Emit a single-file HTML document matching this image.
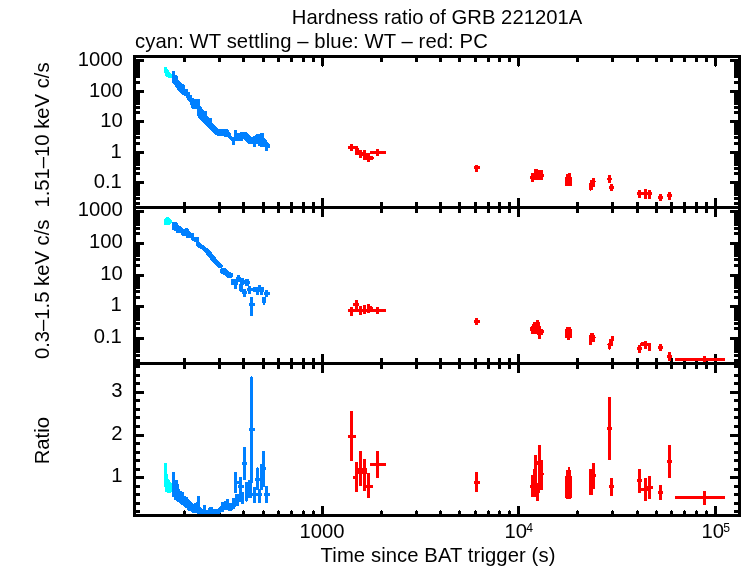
<!DOCTYPE html>
<html><head><meta charset="utf-8"><title>Hardness ratio of GRB 221201A</title>
<style>html,body{margin:0;padding:0;background:#fff}svg{display:block}</style></head>
<body><svg width="744" height="566" viewBox="0 0 744 566">
<rect width="744" height="566" fill="#fff"/>
<g shape-rendering="crispEdges"><rect x="133" y="55" width="608" height="3" fill="#000"/><rect x="133" y="206" width="608" height="3" fill="#000"/><rect x="133" y="362" width="608" height="3" fill="#000"/><rect x="133" y="514" width="608" height="3" fill="#000"/><rect x="133" y="55" width="3" height="462" fill="#000"/><rect x="738" y="55" width="3" height="462" fill="#000"/><rect x="183" y="56" width="3" height="6" fill="#000"/><rect x="183" y="202" width="3" height="11" fill="#000"/><rect x="183" y="358" width="3" height="11" fill="#000"/><rect x="183" y="511" width="3" height="5" fill="#000"/><rect x="184" y="510" width="1" height="1" fill="#000"/><rect x="218" y="56" width="3" height="6" fill="#000"/><rect x="218" y="202" width="3" height="11" fill="#000"/><rect x="218" y="358" width="3" height="11" fill="#000"/><rect x="218" y="511" width="3" height="5" fill="#000"/><rect x="219" y="510" width="1" height="1" fill="#000"/><rect x="242" y="56" width="3" height="6" fill="#000"/><rect x="242" y="202" width="3" height="11" fill="#000"/><rect x="242" y="358" width="3" height="11" fill="#000"/><rect x="242" y="511" width="3" height="5" fill="#000"/><rect x="243" y="510" width="1" height="1" fill="#000"/><rect x="262" y="56" width="3" height="6" fill="#000"/><rect x="262" y="202" width="3" height="11" fill="#000"/><rect x="262" y="358" width="3" height="11" fill="#000"/><rect x="262" y="511" width="3" height="5" fill="#000"/><rect x="263" y="510" width="1" height="1" fill="#000"/><rect x="277" y="56" width="3" height="6" fill="#000"/><rect x="277" y="202" width="3" height="11" fill="#000"/><rect x="277" y="358" width="3" height="11" fill="#000"/><rect x="277" y="511" width="3" height="5" fill="#000"/><rect x="278" y="510" width="1" height="1" fill="#000"/><rect x="290" y="56" width="3" height="6" fill="#000"/><rect x="290" y="202" width="3" height="11" fill="#000"/><rect x="290" y="358" width="3" height="11" fill="#000"/><rect x="290" y="511" width="3" height="5" fill="#000"/><rect x="291" y="510" width="1" height="1" fill="#000"/><rect x="302" y="56" width="3" height="6" fill="#000"/><rect x="302" y="202" width="3" height="11" fill="#000"/><rect x="302" y="358" width="3" height="11" fill="#000"/><rect x="302" y="511" width="3" height="5" fill="#000"/><rect x="303" y="510" width="1" height="1" fill="#000"/><rect x="312" y="56" width="3" height="6" fill="#000"/><rect x="312" y="202" width="3" height="11" fill="#000"/><rect x="312" y="358" width="3" height="11" fill="#000"/><rect x="312" y="511" width="3" height="5" fill="#000"/><rect x="313" y="510" width="1" height="1" fill="#000"/><rect x="321" y="56" width="3" height="10" fill="#000"/><rect x="322" y="66" width="1" height="1" fill="#000"/><rect x="321" y="198" width="3" height="19" fill="#000"/><rect x="321" y="354" width="3" height="19" fill="#000"/><rect x="321" y="506" width="3" height="10" fill="#000"/><rect x="380" y="56" width="3" height="6" fill="#000"/><rect x="380" y="202" width="3" height="11" fill="#000"/><rect x="380" y="358" width="3" height="11" fill="#000"/><rect x="380" y="511" width="3" height="5" fill="#000"/><rect x="381" y="510" width="1" height="1" fill="#000"/><rect x="415" y="56" width="3" height="6" fill="#000"/><rect x="415" y="202" width="3" height="11" fill="#000"/><rect x="415" y="358" width="3" height="11" fill="#000"/><rect x="415" y="511" width="3" height="5" fill="#000"/><rect x="416" y="510" width="1" height="1" fill="#000"/><rect x="439" y="56" width="3" height="6" fill="#000"/><rect x="439" y="202" width="3" height="11" fill="#000"/><rect x="439" y="358" width="3" height="11" fill="#000"/><rect x="439" y="511" width="3" height="5" fill="#000"/><rect x="440" y="510" width="1" height="1" fill="#000"/><rect x="458" y="56" width="3" height="6" fill="#000"/><rect x="458" y="202" width="3" height="11" fill="#000"/><rect x="458" y="358" width="3" height="11" fill="#000"/><rect x="458" y="511" width="3" height="5" fill="#000"/><rect x="459" y="510" width="1" height="1" fill="#000"/><rect x="474" y="56" width="3" height="6" fill="#000"/><rect x="474" y="202" width="3" height="11" fill="#000"/><rect x="474" y="358" width="3" height="11" fill="#000"/><rect x="474" y="511" width="3" height="5" fill="#000"/><rect x="475" y="510" width="1" height="1" fill="#000"/><rect x="487" y="56" width="3" height="6" fill="#000"/><rect x="487" y="202" width="3" height="11" fill="#000"/><rect x="487" y="358" width="3" height="11" fill="#000"/><rect x="487" y="511" width="3" height="5" fill="#000"/><rect x="488" y="510" width="1" height="1" fill="#000"/><rect x="498" y="56" width="3" height="6" fill="#000"/><rect x="498" y="202" width="3" height="11" fill="#000"/><rect x="498" y="358" width="3" height="11" fill="#000"/><rect x="498" y="511" width="3" height="5" fill="#000"/><rect x="499" y="510" width="1" height="1" fill="#000"/><rect x="508" y="56" width="3" height="6" fill="#000"/><rect x="508" y="202" width="3" height="11" fill="#000"/><rect x="508" y="358" width="3" height="11" fill="#000"/><rect x="508" y="511" width="3" height="5" fill="#000"/><rect x="509" y="510" width="1" height="1" fill="#000"/><rect x="517" y="56" width="3" height="10" fill="#000"/><rect x="518" y="66" width="1" height="1" fill="#000"/><rect x="517" y="198" width="3" height="19" fill="#000"/><rect x="517" y="354" width="3" height="19" fill="#000"/><rect x="517" y="506" width="3" height="10" fill="#000"/><rect x="576" y="56" width="3" height="6" fill="#000"/><rect x="576" y="202" width="3" height="11" fill="#000"/><rect x="576" y="358" width="3" height="11" fill="#000"/><rect x="576" y="511" width="3" height="5" fill="#000"/><rect x="577" y="510" width="1" height="1" fill="#000"/><rect x="611" y="56" width="3" height="6" fill="#000"/><rect x="611" y="202" width="3" height="11" fill="#000"/><rect x="611" y="358" width="3" height="11" fill="#000"/><rect x="611" y="511" width="3" height="5" fill="#000"/><rect x="612" y="510" width="1" height="1" fill="#000"/><rect x="636" y="56" width="3" height="6" fill="#000"/><rect x="636" y="202" width="3" height="11" fill="#000"/><rect x="636" y="358" width="3" height="11" fill="#000"/><rect x="636" y="511" width="3" height="5" fill="#000"/><rect x="637" y="510" width="1" height="1" fill="#000"/><rect x="655" y="56" width="3" height="6" fill="#000"/><rect x="655" y="202" width="3" height="11" fill="#000"/><rect x="655" y="358" width="3" height="11" fill="#000"/><rect x="655" y="511" width="3" height="5" fill="#000"/><rect x="656" y="510" width="1" height="1" fill="#000"/><rect x="670" y="56" width="3" height="6" fill="#000"/><rect x="670" y="202" width="3" height="11" fill="#000"/><rect x="670" y="358" width="3" height="11" fill="#000"/><rect x="670" y="511" width="3" height="5" fill="#000"/><rect x="671" y="510" width="1" height="1" fill="#000"/><rect x="683" y="56" width="3" height="6" fill="#000"/><rect x="683" y="202" width="3" height="11" fill="#000"/><rect x="683" y="358" width="3" height="11" fill="#000"/><rect x="683" y="511" width="3" height="5" fill="#000"/><rect x="684" y="510" width="1" height="1" fill="#000"/><rect x="695" y="56" width="3" height="6" fill="#000"/><rect x="695" y="202" width="3" height="11" fill="#000"/><rect x="695" y="358" width="3" height="11" fill="#000"/><rect x="695" y="511" width="3" height="5" fill="#000"/><rect x="696" y="510" width="1" height="1" fill="#000"/><rect x="705" y="56" width="3" height="6" fill="#000"/><rect x="705" y="202" width="3" height="11" fill="#000"/><rect x="705" y="358" width="3" height="11" fill="#000"/><rect x="705" y="511" width="3" height="5" fill="#000"/><rect x="706" y="510" width="1" height="1" fill="#000"/><rect x="714" y="56" width="3" height="10" fill="#000"/><rect x="715" y="66" width="1" height="1" fill="#000"/><rect x="714" y="198" width="3" height="19" fill="#000"/><rect x="714" y="354" width="3" height="19" fill="#000"/><rect x="714" y="506" width="3" height="10" fill="#000"/><rect x="134" y="202" width="6" height="3" fill="#000"/><rect x="734" y="202" width="6" height="3" fill="#000"/><rect x="134" y="197" width="6" height="3" fill="#000"/><rect x="734" y="197" width="6" height="3" fill="#000"/><rect x="134" y="193" width="6" height="3" fill="#000"/><rect x="734" y="193" width="6" height="3" fill="#000"/><rect x="134" y="190" width="6" height="3" fill="#000"/><rect x="734" y="190" width="6" height="3" fill="#000"/><rect x="134" y="188" width="6" height="3" fill="#000"/><rect x="734" y="188" width="6" height="3" fill="#000"/><rect x="134" y="186" width="6" height="3" fill="#000"/><rect x="734" y="186" width="6" height="3" fill="#000"/><rect x="134" y="184" width="6" height="3" fill="#000"/><rect x="734" y="184" width="6" height="3" fill="#000"/><rect x="134" y="183" width="6" height="3" fill="#000"/><rect x="734" y="183" width="6" height="3" fill="#000"/><rect x="134" y="181" width="10" height="3" fill="#000"/><rect x="730" y="181" width="10" height="3" fill="#000"/><rect x="134" y="172" width="6" height="3" fill="#000"/><rect x="734" y="172" width="6" height="3" fill="#000"/><rect x="134" y="167" width="6" height="3" fill="#000"/><rect x="734" y="167" width="6" height="3" fill="#000"/><rect x="134" y="163" width="6" height="3" fill="#000"/><rect x="734" y="163" width="6" height="3" fill="#000"/><rect x="134" y="160" width="6" height="3" fill="#000"/><rect x="734" y="160" width="6" height="3" fill="#000"/><rect x="134" y="157" width="6" height="3" fill="#000"/><rect x="734" y="157" width="6" height="3" fill="#000"/><rect x="134" y="155" width="6" height="3" fill="#000"/><rect x="734" y="155" width="6" height="3" fill="#000"/><rect x="134" y="154" width="6" height="3" fill="#000"/><rect x="734" y="154" width="6" height="3" fill="#000"/><rect x="134" y="152" width="6" height="3" fill="#000"/><rect x="734" y="152" width="6" height="3" fill="#000"/><rect x="134" y="151" width="10" height="3" fill="#000"/><rect x="730" y="151" width="10" height="3" fill="#000"/><rect x="134" y="142" width="6" height="3" fill="#000"/><rect x="734" y="142" width="6" height="3" fill="#000"/><rect x="134" y="136" width="6" height="3" fill="#000"/><rect x="734" y="136" width="6" height="3" fill="#000"/><rect x="134" y="132" width="6" height="3" fill="#000"/><rect x="734" y="132" width="6" height="3" fill="#000"/><rect x="134" y="129" width="6" height="3" fill="#000"/><rect x="734" y="129" width="6" height="3" fill="#000"/><rect x="134" y="127" width="6" height="3" fill="#000"/><rect x="734" y="127" width="6" height="3" fill="#000"/><rect x="134" y="125" width="6" height="3" fill="#000"/><rect x="734" y="125" width="6" height="3" fill="#000"/><rect x="134" y="123" width="6" height="3" fill="#000"/><rect x="734" y="123" width="6" height="3" fill="#000"/><rect x="134" y="122" width="6" height="3" fill="#000"/><rect x="734" y="122" width="6" height="3" fill="#000"/><rect x="134" y="120" width="10" height="3" fill="#000"/><rect x="730" y="120" width="10" height="3" fill="#000"/><rect x="134" y="111" width="6" height="3" fill="#000"/><rect x="734" y="111" width="6" height="3" fill="#000"/><rect x="134" y="106" width="6" height="3" fill="#000"/><rect x="734" y="106" width="6" height="3" fill="#000"/><rect x="134" y="102" width="6" height="3" fill="#000"/><rect x="734" y="102" width="6" height="3" fill="#000"/><rect x="134" y="99" width="6" height="3" fill="#000"/><rect x="734" y="99" width="6" height="3" fill="#000"/><rect x="134" y="97" width="6" height="3" fill="#000"/><rect x="734" y="97" width="6" height="3" fill="#000"/><rect x="134" y="95" width="6" height="3" fill="#000"/><rect x="734" y="95" width="6" height="3" fill="#000"/><rect x="134" y="93" width="6" height="3" fill="#000"/><rect x="734" y="93" width="6" height="3" fill="#000"/><rect x="134" y="91" width="6" height="3" fill="#000"/><rect x="734" y="91" width="6" height="3" fill="#000"/><rect x="134" y="90" width="10" height="3" fill="#000"/><rect x="730" y="90" width="10" height="3" fill="#000"/><rect x="134" y="81" width="6" height="3" fill="#000"/><rect x="734" y="81" width="6" height="3" fill="#000"/><rect x="134" y="75" width="6" height="3" fill="#000"/><rect x="734" y="75" width="6" height="3" fill="#000"/><rect x="134" y="72" width="6" height="3" fill="#000"/><rect x="734" y="72" width="6" height="3" fill="#000"/><rect x="134" y="69" width="6" height="3" fill="#000"/><rect x="734" y="69" width="6" height="3" fill="#000"/><rect x="134" y="66" width="6" height="3" fill="#000"/><rect x="734" y="66" width="6" height="3" fill="#000"/><rect x="134" y="64" width="6" height="3" fill="#000"/><rect x="734" y="64" width="6" height="3" fill="#000"/><rect x="134" y="62" width="6" height="3" fill="#000"/><rect x="734" y="62" width="6" height="3" fill="#000"/><rect x="134" y="61" width="6" height="3" fill="#000"/><rect x="734" y="61" width="6" height="3" fill="#000"/><rect x="134" y="59" width="10" height="3" fill="#000"/><rect x="730" y="59" width="10" height="3" fill="#000"/><rect x="134" y="359" width="6" height="3" fill="#000"/><rect x="734" y="359" width="6" height="3" fill="#000"/><rect x="134" y="354" width="6" height="3" fill="#000"/><rect x="734" y="354" width="6" height="3" fill="#000"/><rect x="134" y="350" width="6" height="3" fill="#000"/><rect x="734" y="350" width="6" height="3" fill="#000"/><rect x="134" y="347" width="6" height="3" fill="#000"/><rect x="734" y="347" width="6" height="3" fill="#000"/><rect x="134" y="344" width="6" height="3" fill="#000"/><rect x="734" y="344" width="6" height="3" fill="#000"/><rect x="134" y="342" width="6" height="3" fill="#000"/><rect x="734" y="342" width="6" height="3" fill="#000"/><rect x="134" y="340" width="6" height="3" fill="#000"/><rect x="734" y="340" width="6" height="3" fill="#000"/><rect x="134" y="338" width="6" height="3" fill="#000"/><rect x="734" y="338" width="6" height="3" fill="#000"/><rect x="134" y="337" width="10" height="3" fill="#000"/><rect x="730" y="337" width="10" height="3" fill="#000"/><rect x="134" y="327" width="6" height="3" fill="#000"/><rect x="734" y="327" width="6" height="3" fill="#000"/><rect x="134" y="322" width="6" height="3" fill="#000"/><rect x="734" y="322" width="6" height="3" fill="#000"/><rect x="134" y="318" width="6" height="3" fill="#000"/><rect x="734" y="318" width="6" height="3" fill="#000"/><rect x="134" y="315" width="6" height="3" fill="#000"/><rect x="734" y="315" width="6" height="3" fill="#000"/><rect x="134" y="312" width="6" height="3" fill="#000"/><rect x="734" y="312" width="6" height="3" fill="#000"/><rect x="134" y="310" width="6" height="3" fill="#000"/><rect x="734" y="310" width="6" height="3" fill="#000"/><rect x="134" y="308" width="6" height="3" fill="#000"/><rect x="734" y="308" width="6" height="3" fill="#000"/><rect x="134" y="307" width="6" height="3" fill="#000"/><rect x="734" y="307" width="6" height="3" fill="#000"/><rect x="134" y="305" width="10" height="3" fill="#000"/><rect x="730" y="305" width="10" height="3" fill="#000"/><rect x="134" y="296" width="6" height="3" fill="#000"/><rect x="734" y="296" width="6" height="3" fill="#000"/><rect x="134" y="290" width="6" height="3" fill="#000"/><rect x="734" y="290" width="6" height="3" fill="#000"/><rect x="134" y="286" width="6" height="3" fill="#000"/><rect x="734" y="286" width="6" height="3" fill="#000"/><rect x="134" y="283" width="6" height="3" fill="#000"/><rect x="734" y="283" width="6" height="3" fill="#000"/><rect x="134" y="281" width="6" height="3" fill="#000"/><rect x="734" y="281" width="6" height="3" fill="#000"/><rect x="134" y="278" width="6" height="3" fill="#000"/><rect x="734" y="278" width="6" height="3" fill="#000"/><rect x="134" y="277" width="6" height="3" fill="#000"/><rect x="734" y="277" width="6" height="3" fill="#000"/><rect x="134" y="275" width="6" height="3" fill="#000"/><rect x="734" y="275" width="6" height="3" fill="#000"/><rect x="134" y="274" width="10" height="3" fill="#000"/><rect x="730" y="274" width="10" height="3" fill="#000"/><rect x="134" y="264" width="6" height="3" fill="#000"/><rect x="734" y="264" width="6" height="3" fill="#000"/><rect x="134" y="258" width="6" height="3" fill="#000"/><rect x="734" y="258" width="6" height="3" fill="#000"/><rect x="134" y="254" width="6" height="3" fill="#000"/><rect x="734" y="254" width="6" height="3" fill="#000"/><rect x="134" y="251" width="6" height="3" fill="#000"/><rect x="734" y="251" width="6" height="3" fill="#000"/><rect x="134" y="249" width="6" height="3" fill="#000"/><rect x="734" y="249" width="6" height="3" fill="#000"/><rect x="134" y="247" width="6" height="3" fill="#000"/><rect x="734" y="247" width="6" height="3" fill="#000"/><rect x="134" y="245" width="6" height="3" fill="#000"/><rect x="734" y="245" width="6" height="3" fill="#000"/><rect x="134" y="243" width="6" height="3" fill="#000"/><rect x="734" y="243" width="6" height="3" fill="#000"/><rect x="134" y="242" width="10" height="3" fill="#000"/><rect x="730" y="242" width="10" height="3" fill="#000"/><rect x="134" y="232" width="6" height="3" fill="#000"/><rect x="734" y="232" width="6" height="3" fill="#000"/><rect x="134" y="227" width="6" height="3" fill="#000"/><rect x="734" y="227" width="6" height="3" fill="#000"/><rect x="134" y="223" width="6" height="3" fill="#000"/><rect x="734" y="223" width="6" height="3" fill="#000"/><rect x="134" y="220" width="6" height="3" fill="#000"/><rect x="734" y="220" width="6" height="3" fill="#000"/><rect x="134" y="217" width="6" height="3" fill="#000"/><rect x="734" y="217" width="6" height="3" fill="#000"/><rect x="134" y="215" width="6" height="3" fill="#000"/><rect x="734" y="215" width="6" height="3" fill="#000"/><rect x="134" y="213" width="6" height="3" fill="#000"/><rect x="734" y="213" width="6" height="3" fill="#000"/><rect x="134" y="211" width="6" height="3" fill="#000"/><rect x="734" y="211" width="6" height="3" fill="#000"/><rect x="134" y="210" width="10" height="3" fill="#000"/><rect x="730" y="210" width="10" height="3" fill="#000"/><rect x="134" y="510" width="6" height="3" fill="#000"/><rect x="734" y="510" width="6" height="3" fill="#000"/><rect x="134" y="502" width="6" height="3" fill="#000"/><rect x="734" y="502" width="6" height="3" fill="#000"/><rect x="134" y="493" width="6" height="3" fill="#000"/><rect x="734" y="493" width="6" height="3" fill="#000"/><rect x="134" y="485" width="6" height="3" fill="#000"/><rect x="734" y="485" width="6" height="3" fill="#000"/><rect x="134" y="476" width="10" height="3" fill="#000"/><rect x="730" y="476" width="10" height="3" fill="#000"/><rect x="134" y="468" width="6" height="3" fill="#000"/><rect x="734" y="468" width="6" height="3" fill="#000"/><rect x="134" y="459" width="6" height="3" fill="#000"/><rect x="734" y="459" width="6" height="3" fill="#000"/><rect x="134" y="451" width="6" height="3" fill="#000"/><rect x="734" y="451" width="6" height="3" fill="#000"/><rect x="134" y="442" width="6" height="3" fill="#000"/><rect x="734" y="442" width="6" height="3" fill="#000"/><rect x="134" y="434" width="10" height="3" fill="#000"/><rect x="730" y="434" width="10" height="3" fill="#000"/><rect x="134" y="425" width="6" height="3" fill="#000"/><rect x="734" y="425" width="6" height="3" fill="#000"/><rect x="134" y="416" width="6" height="3" fill="#000"/><rect x="734" y="416" width="6" height="3" fill="#000"/><rect x="134" y="408" width="6" height="3" fill="#000"/><rect x="734" y="408" width="6" height="3" fill="#000"/><rect x="134" y="399" width="6" height="3" fill="#000"/><rect x="734" y="399" width="6" height="3" fill="#000"/><rect x="134" y="391" width="10" height="3" fill="#000"/><rect x="730" y="391" width="10" height="3" fill="#000"/><rect x="134" y="382" width="6" height="3" fill="#000"/><rect x="734" y="382" width="6" height="3" fill="#000"/><rect x="134" y="374" width="6" height="3" fill="#000"/><rect x="734" y="374" width="6" height="3" fill="#000"/><rect x="134" y="365" width="6" height="3" fill="#000"/><rect x="734" y="365" width="6" height="3" fill="#000"/></g>
<g shape-rendering="crispEdges"><polygon fill="#00ffff" points="164,67 167,67 167,69 169,71 170,73 172,75 172,77 171,78 168,78 167,77 165,76 165,74 164,73"/><polygon fill="#0080ff" points="172,71 175,71 175,75 176,75 178,76 178,80 180,81 181,83 183,84 185,86 185,89 188,89 188,92 190,92 190,95 192,95 192,98 194,98 194,99 200,99 200,106 202,108 204,111 207,111 207,116 209,118 212,118 212,122 215,126 218,129 227,129 229,131 231,134 232,137 234,137 234,130 237,130 237,133 240,133 240,132 247,132 251,137 254,136 256,134 260,134 260,133 264,133 264,137 270,145 270,148 268,148 268,151 265,151 265,147 262,147 258,146 258,144 256,144 256,147 253,147 253,144 248,144 247,143 243,139 243,141 235,141 235,145 232,145 232,142 228,137 219,136 215,135 213,133 211,130 207,127 204,124 202,121 198,118 197,113 197,109 192,109 190,103 187,100 186,96 182,95 179,92 177,89 175,86 173,84 172,81"/><rect fill="#ff0000" x="348" y="146" width="10" height="3"/><rect fill="#ff0000" x="350" y="144" width="3" height="7"/><rect fill="#ff0000" x="355" y="148" width="4" height="7"/><rect fill="#ff0000" x="359" y="150" width="3" height="8"/><rect fill="#ff0000" x="362" y="152" width="1" height="4"/><rect fill="#ff0000" x="363" y="150" width="3" height="10"/><rect fill="#ff0000" x="366" y="153" width="4" height="7"/><rect fill="#ff0000" x="367" y="160" width="3" height="2"/><rect fill="#ff0000" x="370" y="156" width="3" height="4"/><rect fill="#ff0000" x="373" y="157" width="1" height="2"/><rect fill="#ff0000" x="370" y="151" width="16" height="3"/><rect fill="#ff0000" x="376" y="149" width="3" height="7"/><rect fill="#ff0000" x="474" y="166" width="6" height="3"/><rect fill="#ff0000" x="475" y="165" width="3" height="7"/><rect fill="#ff0000" x="534" y="170" width="9" height="10"/><rect fill="#ff0000" x="534" y="169" width="4" height="1"/><rect fill="#ff0000" x="531" y="173" width="3" height="9"/><rect fill="#ff0000" x="530" y="176" width="1" height="3"/><rect fill="#ff0000" x="543" y="174" width="1" height="3"/><rect fill="#ff0000" x="565" y="177" width="7" height="9"/><rect fill="#ff0000" x="566" y="174" width="5" height="3"/><rect fill="#ff0000" x="568" y="173" width="3" height="1"/><rect fill="#ff0000" x="592" y="178" width="3" height="5"/><rect fill="#ff0000" x="590" y="180" width="5" height="7"/><rect fill="#ff0000" x="589" y="183" width="4" height="7"/><rect fill="#ff0000" x="590" y="190" width="1" height="1"/><rect fill="#ff0000" x="595" y="181" width="1" height="1"/><rect fill="#ff0000" x="608" y="175" width="3" height="8"/><rect fill="#ff0000" x="607" y="178" width="5" height="2"/><rect fill="#ff0000" x="610" y="184" width="3" height="7"/><rect fill="#ff0000" x="609" y="186" width="5" height="3"/><rect fill="#ff0000" x="638" y="190" width="3" height="8"/><rect fill="#ff0000" x="644" y="189" width="3" height="10"/><rect fill="#ff0000" x="648" y="190" width="3" height="9"/><rect fill="#ff0000" x="637" y="192" width="15" height="3"/><rect fill="#ff0000" x="659" y="194" width="3" height="7"/><rect fill="#ff0000" x="658" y="196" width="5" height="3"/><rect fill="#ff0000" x="668" y="192" width="3" height="8"/><rect fill="#ff0000" x="667" y="194" width="5" height="3"/><polygon fill="#00ffff" points="164,219 166,217 169,217 170,219 172,220 172,223 171,223 170,225 164,225"/><polygon fill="#0080ff" points="172,222 177,222 179,226 182,227 183,229 185,229 185,228 188,228 190,232 191,233 194,233 194,237 199,237 199,242 203,245 207,248 212,253 216,258 221,264 223,266 223,267 221,268 218,268 214,264 210,259 206,254 203,251 201,249 198,248 196,246 196,242 192,241 191,238 186,238 186,236 182,236 181,233 176,233 176,231 172,230"/><polygon fill="#0080ff" points="220,269 222,268 226,268 229,272 232,273 233,274 233,277 231,278 227,278 224,275 220,273"/><rect fill="#0080ff" x="231" y="279" width="7" height="6"/><rect fill="#0080ff" x="234" y="279" width="3" height="10"/><rect fill="#0080ff" x="237" y="275" width="3" height="7"/><rect fill="#0080ff" x="236" y="277" width="5" height="3"/><rect fill="#0080ff" x="241" y="278" width="3" height="7"/><rect fill="#0080ff" x="240" y="280" width="5" height="4"/><rect fill="#0080ff" x="245" y="279" width="4" height="7"/><rect fill="#0080ff" x="244" y="281" width="6" height="3"/><rect fill="#0080ff" x="239" y="284" width="4" height="7"/><rect fill="#0080ff" x="240" y="291" width="2" height="1"/><rect fill="#0080ff" x="243" y="289" width="3" height="8"/><rect fill="#0080ff" x="242" y="291" width="5" height="3"/><rect fill="#0080ff" x="248" y="286" width="3" height="8"/><rect fill="#0080ff" x="247" y="288" width="5" height="3"/><rect fill="#0080ff" x="253" y="287" width="11" height="5"/><rect fill="#0080ff" x="256" y="292" width="3" height="3"/><rect fill="#0080ff" x="260" y="292" width="3" height="3"/><rect fill="#0080ff" x="258" y="285" width="3" height="2"/><rect fill="#0080ff" x="252" y="288" width="1" height="3"/><rect fill="#0080ff" x="265" y="290" width="3" height="7"/><rect fill="#0080ff" x="264" y="292" width="6" height="3"/><rect fill="#0080ff" x="262" y="297" width="4" height="6"/><rect fill="#0080ff" x="263" y="303" width="2" height="2"/><rect fill="#0080ff" x="250" y="297" width="3" height="19"/><rect fill="#0080ff" x="249" y="303" width="6" height="3"/><rect fill="#ff0000" x="348" y="309" width="38" height="3"/><rect fill="#ff0000" x="350" y="307" width="3" height="9"/><rect fill="#ff0000" x="355" y="300" width="3" height="12"/><rect fill="#ff0000" x="353" y="303" width="6" height="3"/><rect fill="#ff0000" x="359" y="306" width="3" height="9"/><rect fill="#ff0000" x="363" y="305" width="3" height="9"/><rect fill="#ff0000" x="367" y="304" width="3" height="9"/><rect fill="#ff0000" x="370" y="306" width="2" height="4"/><rect fill="#ff0000" x="372" y="307" width="1" height="3"/><rect fill="#ff0000" x="376" y="307" width="3" height="7"/><rect fill="#ff0000" x="474" y="320" width="6" height="3"/><rect fill="#ff0000" x="475" y="318" width="3" height="7"/><rect fill="#ff0000" x="531" y="326" width="7" height="8"/><rect fill="#ff0000" x="532" y="324" width="1" height="2"/><rect fill="#ff0000" x="530" y="327" width="1" height="4"/><rect fill="#ff0000" x="533" y="322" width="7" height="4"/><rect fill="#ff0000" x="536" y="320" width="3" height="3"/><rect fill="#ff0000" x="538" y="326" width="3" height="13"/><rect fill="#ff0000" x="537" y="329" width="6" height="6"/><rect fill="#ff0000" x="543" y="330" width="1" height="3"/><rect fill="#ff0000" x="565" y="329" width="7" height="9"/><rect fill="#ff0000" x="566" y="327" width="5" height="2"/><rect fill="#ff0000" x="567" y="338" width="3" height="2"/><rect fill="#ff0000" x="590" y="333" width="4" height="2"/><rect fill="#ff0000" x="589" y="335" width="6" height="7"/><rect fill="#ff0000" x="589" y="342" width="3" height="3"/><rect fill="#ff0000" x="595" y="337" width="1" height="1"/><rect fill="#ff0000" x="611" y="336" width="3" height="5"/><rect fill="#ff0000" x="609" y="339" width="4" height="7"/><rect fill="#ff0000" x="608" y="343" width="3" height="6"/><rect fill="#ff0000" x="609" y="349" width="1" height="1"/><rect fill="#ff0000" x="607" y="344" width="1" height="1"/><rect fill="#ff0000" x="638" y="345" width="3" height="8"/><rect fill="#ff0000" x="637" y="347" width="5" height="3"/><rect fill="#ff0000" x="640" y="343" width="11" height="3"/><rect fill="#ff0000" x="644" y="341" width="3" height="8"/><rect fill="#ff0000" x="648" y="343" width="3" height="8"/><rect fill="#ff0000" x="641" y="342" width="3" height="3"/><rect fill="#ff0000" x="659" y="344" width="3" height="7"/><rect fill="#ff0000" x="658" y="346" width="5" height="3"/><rect fill="#ff0000" x="668" y="352" width="3" height="9"/><rect fill="#ff0000" x="667" y="355" width="5" height="3"/><rect fill="#ff0000" x="675" y="358" width="50" height="3"/><rect fill="#ff0000" x="703" y="356" width="3" height="6"/><polygon fill="#00ffff" points="164,463 167,463 167,469 168,479 170,481 172,484 172,491 171,493 168,493 165,492 164,482"/><polygon fill="#0080ff" points="172,472 175,472 175,480 178,480 179,487 180,491 184,492 184,496 188,497 189,500 193,504 197,502 197,496 200,496 200,507 203,509 203,505 206,505 206,510 208,510 209,507 213,507 213,509 218,509 221,505 221,502 226,501 226,499 229,499 229,503 232,503 232,498 235,498 235,494 239,494 239,506 236,506 235,509 233,509 232,511 228,511 228,510 224,510 224,512 221,512 219,514 197,514 196,513 192,513 191,511 188,511 187,508 185,508 184,506 181,505 180,503 177,502 176,500 174,500 174,497 172,497"/><rect fill="#0080ff" x="234" y="472" width="3" height="21"/><rect fill="#0080ff" x="234" y="481" width="5" height="3"/><rect fill="#0080ff" x="239" y="477" width="3" height="25"/><rect fill="#0080ff" x="238" y="485" width="6" height="3"/><rect fill="#0080ff" x="243" y="447" width="3" height="33"/><rect fill="#0080ff" x="242" y="462" width="5" height="3"/><rect fill="#0080ff" x="250" y="377" width="3" height="106"/><rect fill="#0080ff" x="251" y="376" width="1" height="1"/><rect fill="#0080ff" x="249" y="428" width="6" height="3"/><rect fill="#0080ff" x="245" y="486" width="3" height="15"/><rect fill="#0080ff" x="246" y="501" width="1" height="1"/><rect fill="#0080ff" x="248" y="480" width="3" height="18"/><rect fill="#0080ff" x="245" y="482" width="7" height="16"/><rect fill="#0080ff" x="241" y="492" width="3" height="12"/><rect fill="#0080ff" x="253" y="487" width="3" height="16"/><rect fill="#0080ff" x="252" y="493" width="10" height="3"/><rect fill="#0080ff" x="256" y="468" width="3" height="22"/><rect fill="#0080ff" x="257" y="467" width="1" height="1"/><rect fill="#0080ff" x="255" y="478" width="6" height="3"/><rect fill="#0080ff" x="258" y="489" width="3" height="14"/><rect fill="#0080ff" x="260" y="464" width="3" height="26"/><rect fill="#0080ff" x="262" y="451" width="3" height="36"/><rect fill="#0080ff" x="261" y="467" width="5" height="3"/><rect fill="#0080ff" x="265" y="486" width="3" height="17"/><rect fill="#0080ff" x="264" y="493" width="6" height="3"/><rect fill="#ff0000" x="350" y="411" width="3" height="50"/><rect fill="#ff0000" x="348" y="435" width="8" height="3"/><rect fill="#ff0000" x="355" y="462" width="3" height="30"/><rect fill="#ff0000" x="353" y="476" width="5" height="3"/><rect fill="#ff0000" x="359" y="451" width="3" height="35"/><rect fill="#ff0000" x="363" y="459" width="3" height="32"/><rect fill="#ff0000" x="358" y="468" width="9" height="6"/><rect fill="#ff0000" x="367" y="473" width="3" height="25"/><rect fill="#ff0000" x="366" y="485" width="7" height="3"/><rect fill="#ff0000" x="376" y="451" width="3" height="27"/><rect fill="#ff0000" x="370" y="463" width="16" height="3"/><rect fill="#ff0000" x="475" y="472" width="3" height="20"/><rect fill="#ff0000" x="474" y="481" width="6" height="3"/><rect fill="#ff0000" x="538" y="445" width="3" height="39"/><rect fill="#ff0000" x="534" y="455" width="3" height="39"/><rect fill="#ff0000" x="540" y="460" width="3" height="30"/><rect fill="#ff0000" x="533" y="469" width="4" height="28"/><rect fill="#ff0000" x="531" y="475" width="3" height="22"/><rect fill="#ff0000" x="536" y="483" width="3" height="18"/><rect fill="#ff0000" x="538" y="483" width="2" height="10"/><rect fill="#ff0000" x="537" y="461" width="1" height="4"/><rect fill="#ff0000" x="530" y="485" width="1" height="3"/><rect fill="#ff0000" x="543" y="473" width="1" height="2"/><rect fill="#ff0000" x="565" y="476" width="7" height="22"/><rect fill="#ff0000" x="566" y="470" width="5" height="29"/><rect fill="#ff0000" x="568" y="467" width="2" height="4"/><rect fill="#ff0000" x="589" y="469" width="4" height="26"/><rect fill="#ff0000" x="592" y="463" width="3" height="26"/><rect fill="#ff0000" x="595" y="474" width="1" height="3"/><rect fill="#ff0000" x="608" y="397" width="3" height="63"/><rect fill="#ff0000" x="607" y="427" width="5" height="3"/><rect fill="#ff0000" x="610" y="478" width="3" height="18"/><rect fill="#ff0000" x="609" y="485" width="5" height="3"/><rect fill="#ff0000" x="638" y="469" width="3" height="24"/><rect fill="#ff0000" x="637" y="479" width="5" height="3"/><rect fill="#ff0000" x="644" y="478" width="3" height="23"/><rect fill="#ff0000" x="648" y="476" width="3" height="23"/><rect fill="#ff0000" x="647" y="486" width="6" height="3"/><rect fill="#ff0000" x="641" y="488" width="7" height="3"/><rect fill="#ff0000" x="659" y="485" width="3" height="15"/><rect fill="#ff0000" x="658" y="491" width="5" height="3"/><rect fill="#ff0000" x="668" y="445" width="3" height="33"/><rect fill="#ff0000" x="667" y="460" width="5" height="3"/><rect fill="#ff0000" x="675" y="496" width="50" height="3"/><rect fill="#ff0000" x="703" y="491" width="3" height="14"/></g>
<g font-family="Liberation Sans, Arial, Helvetica, sans-serif" fill="#000" style="opacity:0.999"><text x="437" y="23.5" font-size="20.25" text-anchor="middle" >Hardness ratio of GRB 221201A</text><text x="135" y="47.5" font-size="20.25" text-anchor="start" textLength="352.8" lengthAdjust="spacing">cyan: WT settling – blue: WT – red: PC</text><text x="438" y="561.5" font-size="20.25" text-anchor="middle" textLength="234.8" lengthAdjust="spacing">Time since BAT trigger (s)</text><text x="122.7" y="65.6" font-size="20.25" text-anchor="end" >1000</text><text x="122.7" y="216.3" font-size="20.25" text-anchor="end" >1000</text><text x="122.7" y="96.6" font-size="20.25" text-anchor="end" >100</text><text x="122.7" y="248.3" font-size="20.25" text-anchor="end" >100</text><text x="122.7" y="126.6" font-size="20.25" text-anchor="end" >10</text><text x="122.7" y="280.3" font-size="20.25" text-anchor="end" >10</text><text x="121.8" y="157.6" font-size="20.25" text-anchor="end" >1</text><text x="121.8" y="311.3" font-size="20.25" text-anchor="end" >1</text><text x="121.8" y="187.6" font-size="20.25" text-anchor="end" >0.1</text><text x="121.8" y="343.3" font-size="20.25" text-anchor="end" >0.1</text><text x="122.5" y="482.3" font-size="20.25" text-anchor="end" >1</text><text x="122.5" y="440.3" font-size="20.25" text-anchor="end" >2</text><text x="122.5" y="397.3" font-size="20.25" text-anchor="end" >3</text><text x="322" y="537.6" font-size="20.25" text-anchor="middle" >1000</text><text x="504.5" y="537.6" font-size="20.25">10<tspan font-size="12.2" dy="-5.6" dx="-0.8">4</tspan></text><text x="701.5" y="537.6" font-size="20.25">10<tspan font-size="12.2" dy="-5.6" dx="-0.8">5</tspan></text><text transform="translate(49,135) rotate(-90)" font-size="20.25" text-anchor="middle">1.51–10 keV c/s</text><text transform="translate(49,289.3) rotate(-90)" font-size="20.25" text-anchor="middle">0.3–1.5 keV c/s</text><text transform="translate(49,440.7) rotate(-90)" font-size="20.25" text-anchor="middle">Ratio</text></g>
</svg></body></html>
